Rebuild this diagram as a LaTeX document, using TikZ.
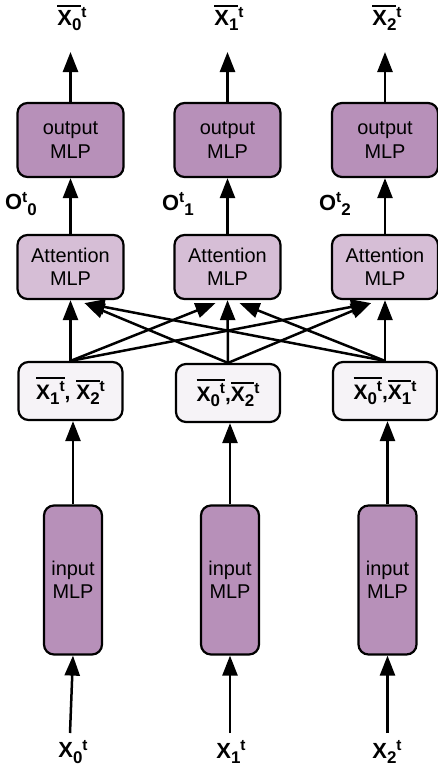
\documentclass[tikz,border=0pt]{standalone}
\usepackage{fontspec}
\setmainfont{Liberation Sans}
\usetikzlibrary{arrows.meta,calc}
\definecolor{mlpc}{RGB}{183,144,185}
\definecolor{attc}{RGB}{214,190,214}
\definecolor{midc}{RGB}{246,243,247}
\newcommand\ovl[1]{\leavevmode\vbox{\hrule height 1.7bp\kern3bp\hbox{#1}}}
\newcommand\lo[1]{\raisebox{-5.5bp}{\fontsize{17}{17}\selectfont #1}}
\newcommand\hi[1]{\raisebox{7.5bp}{\fontsize{15.5}{16}\selectfont #1}}
\tikzset{
 box/.style={draw, line width=2.2bp, rounded corners=10bp, align=center, font=\fontsize{20}{23.5}\selectfont, inner sep=0pt},
 mlpbox/.style={box, fill=mlpc, minimum width=106bp, minimum height=74bp},
 attbox/.style={box, fill=attc, minimum width=106bp, minimum height=64bp},
 midbox/.style={box, fill=midc, minimum width=104bp, minimum height=58bp, font=\bfseries\fontsize{21}{23}\selectfont},
 inbox/.style={box, fill=mlpc, minimum width=58bp, minimum height=149bp},
 lab/.style={font=\bfseries\fontsize{22}{24}\selectfont, inner sep=0pt},
 arr/.style={line width=2.5bp, -{Triangle[length=20bp,width=15bp]}},
}
\begin{document}
\begin{tikzpicture}[x=1bp,y=-1bp]
\useasboundingbox (0,0) rectangle (438,766);
% top labels
\node[lab] (t0) at (72,18) {\ovl{X\lo{0}}\hi{t}};
\node[lab] (t1) at (229,18) {\ovl{X\lo{1}}\hi{t}};
\node[lab] (t2) at (387,18) {\ovl{X\lo{2}}\hi{t}};
\coordinate (te0) at (70.5,52);
\coordinate (te1) at (227.5,52);
\coordinate (te2) at (385,52);
% output MLPs
\node[mlpbox] (o0) at (70.5,140) {output\\MLP};
\node[mlpbox] (o1) at (227.5,140) {output\\MLP};
\node[mlpbox] (o2) at (385,140) {output\\MLP};
% O labels
\node[lab] (ol0) at (21,204) {O\hi{t}\lo{0}};
\node[lab] (ol1) at (178,204) {O\hi{t}\lo{1}};
\node[lab] (ol2) at (335,204) {O\hi{t}\lo{2}};
% attention MLPs
\node[attbox] (a0) at (70.5,267) {Attention\\MLP};
\node[attbox] (a1) at (227.5,267) {Attention\\MLP};
\node[attbox] (a2) at (385,267) {Attention\\MLP};
% middle boxes
\node[midbox] (m0) at (70.5,391) {\ovl{X\lo{1}\hi{t}}, \ovl{X\lo{2}}\hi{t}};
\node[midbox] (m1) at (228,393) {\ovl{X\lo{0}\hi{t}},\ovl{X\lo{2}}\hi{t}};
\node[midbox] (m2) at (385,391) {\ovl{X\lo{0}\hi{t}},\ovl{X\lo{1}}\hi{t}};
% input MLPs
\node[inbox] (i0) at (73,580) {input\\MLP};
\node[inbox] (i1) at (230,580) {input\\MLP};
\node[inbox] (i2) at (387.5,580) {input\\MLP};
% bottom labels
\node[lab] (b0) at (73,752) {X\lo{0}\hi{t}};
\node[lab] (b1) at (231,752) {X\lo{1}\hi{t}};
\node[lab] (b2) at (387,752) {X\lo{2}\hi{t}};
\coordinate (s0) at (70,733);
\coordinate (s1) at (230,733);
\coordinate (s2) at (387.5,733);
% arrows
\foreach \k in {0,1,2}{
  \draw[arr] (o\k.north) -- (te\k);
  \draw[arr] (a\k.north) -- (o\k.south);
  \draw[arr] (m\k.north) -- (a\k.south);
  \draw[arr] (i\k.north) -- (i\k.north |- m\k.south);
  \draw[arr] (s\k) -- (i\k.south);
}
\draw[arr] (m0.north) -- ($(a1.south)+(-12,3)$);
\draw[arr] (m0.north) -- ($(a2.south)+(-14,3)$);
\draw[arr] (m1.north) -- ($(a0.south)+(14,3)$);
\draw[arr] (m1.north) -- ($(a2.south)+(-14,3)$);
\draw[arr] (m2.north) -- ($(a0.south)+(14,3)$);
\draw[arr] (m2.north) -- ($(a1.south)+(12,3)$);
\end{tikzpicture}
\end{document}
